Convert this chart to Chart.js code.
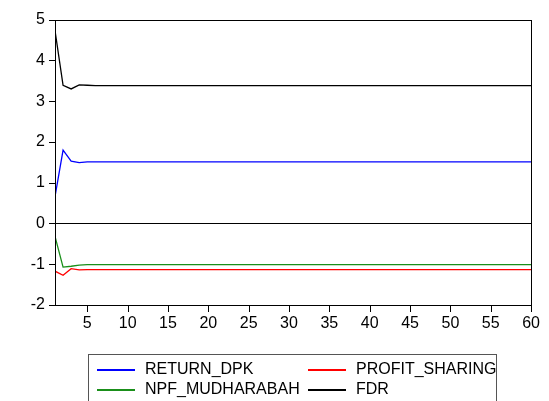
<!DOCTYPE html>
<html>
<head>
<meta charset="utf-8">
<script src="https://cdn.jsdelivr.net/npm/chart.js@4"></script>
<style>
body{margin:0;background:#fff;font-family:"Liberation Sans",Arial,sans-serif}
#wrap{position:relative;width:549px;height:401px}
#legend{position:absolute;left:88px;top:354px;width:409px;height:48px;border:1px solid #555;box-sizing:border-box;font-size:16px;color:#000}
.item{position:absolute;height:20px;line-height:20px;white-space:nowrap}
.item i{display:inline-block;width:38px;height:2px;vertical-align:middle;margin-right:10px}
.tk{position:absolute;background:#000}
</style>
</head>
<body>
<div id="wrap">
<canvas id="c" width="549" height="401"></canvas>
<div id="legend"></div>
</div>
<script>
// periode 1..60
const periods = [1,2,3,4,5,6,7,8,9,10,11,12,13,14,15,16,17,18,19,20,
  21,22,23,24,25,26,27,28,29,30,31,32,33,34,35,36,37,38,39,40,
  41,42,43,44,45,46,47,48,49,50,51,52,53,54,55,56,57,58,59,60]
const xTicks = [5,10,15,20,25,30,35,40,45,50,55,60]
const yTicks = [-2,-1,0,1,2,3,4,5]

const returnDpk = [0.66,1.80,1.53,1.49,1.51,1.51,1.51,1.51,1.51,1.51,
  1.51,1.51,1.51,1.51,1.51,1.51,1.51,1.51,1.51,1.51,
  1.51,1.51,1.51,1.51,1.51,1.51,1.51,1.51,1.51,1.51,
  1.51,1.51,1.51,1.51,1.51,1.51,1.51,1.51,1.51,1.51,
  1.51,1.51,1.51,1.51,1.51,1.51,1.51,1.51,1.51,1.51,
  1.51,1.51,1.51,1.51,1.51,1.51,1.51,1.51,1.51,1.51]
const profitSharing = [-1.17,-1.27,-1.11,-1.14,-1.13,-1.13,-1.13,-1.13,-1.13,-1.13,
  -1.13,-1.13,-1.13,-1.13,-1.13,-1.13,-1.13,-1.13,-1.13,-1.13,
  -1.13,-1.13,-1.13,-1.13,-1.13,-1.13,-1.13,-1.13,-1.13,-1.13,
  -1.13,-1.13,-1.13,-1.13,-1.13,-1.13,-1.13,-1.13,-1.13,-1.13,
  -1.13,-1.13,-1.13,-1.13,-1.13,-1.13,-1.13,-1.13,-1.13,-1.13,
  -1.13,-1.13,-1.13,-1.13,-1.13,-1.13,-1.13,-1.13,-1.13,-1.13]
const npfMudharabah = [-0.32,-1.07,-1.05,-1.02,-1.01,-1.01,-1.01,-1.01,-1.01,-1.01,
  -1.01,-1.01,-1.01,-1.01,-1.01,-1.01,-1.01,-1.01,-1.01,-1.01,
  -1.01,-1.01,-1.01,-1.01,-1.01,-1.01,-1.01,-1.01,-1.01,-1.01,
  -1.01,-1.01,-1.01,-1.01,-1.01,-1.01,-1.01,-1.01,-1.01,-1.01,
  -1.01,-1.01,-1.01,-1.01,-1.01,-1.01,-1.01,-1.01,-1.01,-1.01,
  -1.01,-1.01,-1.01,-1.01,-1.01,-1.01,-1.01,-1.01,-1.01,-1.01]
const fdr = [4.73,3.39,3.30,3.40,3.39,3.38,3.38,3.38,3.38,3.38,
  3.38,3.38,3.38,3.38,3.38,3.38,3.38,3.38,3.38,3.38,
  3.38,3.38,3.38,3.38,3.38,3.38,3.38,3.38,3.38,3.38,
  3.38,3.38,3.38,3.38,3.38,3.38,3.38,3.38,3.38,3.38,
  3.38,3.38,3.38,3.38,3.38,3.38,3.38,3.38,3.38,3.38,
  3.38,3.38,3.38,3.38,3.38,3.38,3.38,3.38,3.38,3.38]

const series = [
  {label:"RETURN_DPK", data:returnDpk, color:"#0000ff"},
  {label:"PROFIT_SHARING", data:profitSharing, color:"#ff0000"},
  {label:"NPF_MUDHARABAH", data:npfMudharabah, color:"#1a8f1a"},
  {label:"FDR", data:fdr, color:"#000000"}
]

Chart.defaults.font.family = '"Liberation Sans", Arial, sans-serif'
Chart.defaults.font.size = 16
Chart.defaults.color = '#000'

// kotak plot + garis nol
const frame = {
  id: 'frame',
  afterDraw(chart){
    const a = chart.chartArea
    const ctx = chart.ctx
    const ys = chart.scales.y
    const L = Math.round(a.left), T = Math.round(a.top)
    const R = Math.round(a.right), B = Math.round(a.bottom)
    ctx.save()
    ctx.fillStyle = '#000'
    ctx.fillRect(L, T, R-L+1, 1)
    ctx.fillRect(L, B, R-L+1, 1)
    ctx.fillRect(L, T, 1, B-T+1)
    ctx.fillRect(R, T, 1, B-T+1)
    ctx.fillRect(L, Math.round(ys.getPixelForValue(0)), R-L, 1)
    ctx.restore()
  }
}

const chart = new Chart(document.getElementById('c'), {
  type: 'line',
  data: {
    labels: periods,
    datasets: series.map(s => ({
      label: s.label,
      data: s.data,
      borderColor: s.color,
      borderWidth: 1.3,
      pointRadius: 0,
      tension: 0,
      fill: false
    }))
  },
  options: {
    responsive: false,
    animation: false,
    layout: {padding: {top: 17, right: 17, left: 0, bottom: 0}},
    plugins: {legend: {display: false}, tooltip: {enabled: false}},
    scales: {
      x: {
        type: 'linear',
        min: 1,
        max: 60,
        afterBuildTicks: s => { s.ticks = xTicks.map(v => ({value: v})) },
        afterFit: s => { s.height = 96 },
        grid: {display: false, drawTicks: false},
        border: {display: false},
        ticks: {padding: 9, maxRotation: 0, autoSkip: false}
      },
      y: {
        min: -2,
        max: 5,
        afterBuildTicks: s => { s.ticks = yTicks.map(v => ({value: v})) },
        afterFit: s => { s.width = 55 },
        grid: {display: false, drawTicks: false},
        border: {display: false},
        ticks: {padding: 10}
      }
    }
  },
  plugins: [frame]
})

// tick keluar (dari skala chart)
const wrap = document.getElementById('wrap')
const area = chart.chartArea
function tick(l, t, w, h){
  const d = document.createElement('div')
  d.className = 'tk'
  d.style.cssText = `left:${l}px;top:${t}px;width:${w}px;height:${h}px`
  wrap.appendChild(d)
}
xTicks.forEach(v => tick(Math.round(chart.scales.x.getPixelForValue(v)), Math.round(area.bottom), 1, 7))
yTicks.forEach(v => tick(Math.round(area.left)-6, Math.round(chart.scales.y.getPixelForValue(v)), 7, 1))

// legenda
const legend = document.getElementById('legend')
const pos = [[8,4],[219,4],[8,24],[219,24]]
series.forEach((s, i) => {
  const d = document.createElement('div')
  d.className = 'item'
  d.style.left = pos[i][0] + 'px'
  d.style.top = pos[i][1] + 'px'
  d.innerHTML = `<i style="background-color:${s.color}"></i>${s.label}`
  legend.appendChild(d)
})
</script>
</body>
</html>
